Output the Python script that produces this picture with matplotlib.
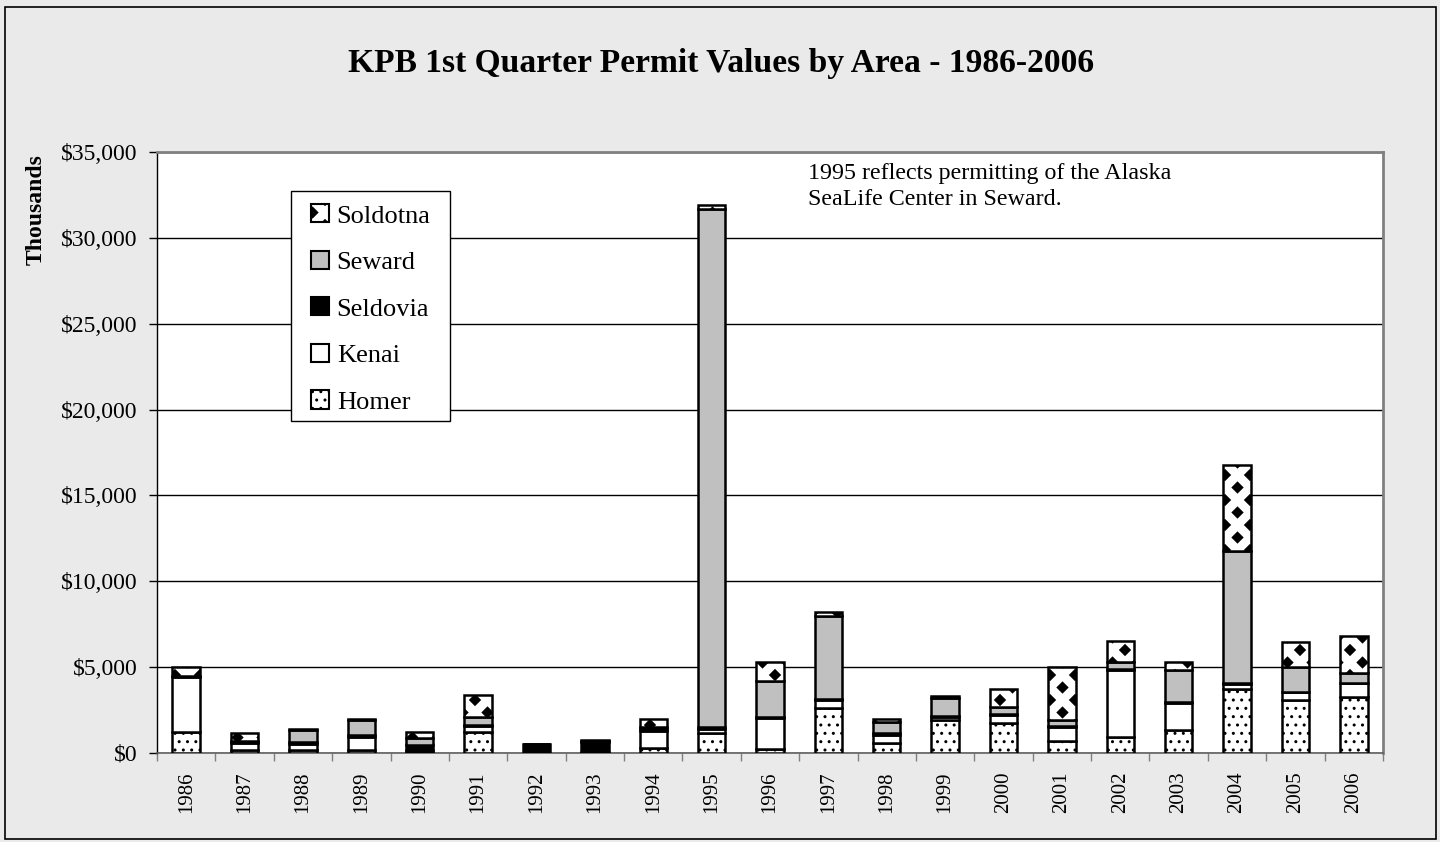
import numpy as np
import matplotlib
matplotlib.use("Agg")
import matplotlib.pyplot as plt
import matplotlib.hatch as mhatch
from matplotlib.path import Path
from matplotlib.patches import Rectangle, Patch

# ---------------- data (values in $ thousands) ----------------
years = [str(y) for y in range(1986, 2007)]
homer = [1240, 150, 150, 150, 50, 1250, 0, 20, 300, 1150, 250, 2600, 600, 1950, 1770, 700, 950, 1350, 3700, 3100, 3250]
kenai = [3200, 450, 350, 800, 100, 300, 0, 50, 1000, 250, 1800, 500, 450, 150, 450, 800, 3900, 1550, 300, 450, 800]
seldovia = [30, 60, 120, 100, 300, 100, 500, 550, 100, 100, 50, 50, 100, 50, 50, 50, 50, 50, 50, 30, 30]
seward = [20, 30, 700, 850, 400, 450, 0, 50, 100, 30200, 2100, 4800, 650, 1050, 400, 400, 400, 1900, 7700, 1450, 600]
soldotna = [490, 460, 80, 100, 350, 1300, 0, 80, 500, 200, 1100, 250, 200, 120, 1050, 3050, 1200, 450, 5050, 1450, 2150]
series_names = ["Homer", "Kenai", "Seldovia", "Seward", "Soldotna"]
yticks = [0, 5000, 10000, 15000, 20000, 25000, 30000, 35000]
ytick_labels = ["$0", "$5,000", "$10,000", "$15,000", "$20,000", "$25,000", "$30,000", "$35,000"]
title = "KPB 1st Quarter Permit Values by Area - 1986-2006"
note = "1995 reflects permitting of the Alaska\nSeaLife Center in Seward."


# ---------------- custom hatch: filled diamonds ('*') ----------------
class FilledDiamonds(mhatch.HatchPatternBase):
    def __init__(self, hatch, density):
        n = hatch.count('*')
        self.ncols = 4 * n
        self.nrows = 8 * n
        self.num_vertices = 0 if n == 0 else len(self._centers()) * 5

    def _centers(self):
        pts = []
        for r in range(self.nrows + 1):
            yy = r / self.nrows
            if r % 2 == 0:
                xs = np.linspace(0, 1, self.ncols + 1)
            else:
                xs = (np.arange(self.ncols) + 0.5) / self.ncols
            pts += [(xx, yy) for xx in xs]
        return pts

    def set_vertices_and_codes(self, vertices, codes):
        a = 0.052
        d = np.array([[0, a], [a, 0], [0, -a], [-a, 0], [0, a]])
        c = np.array([Path.MOVETO, Path.LINETO, Path.LINETO, Path.LINETO, Path.CLOSEPOLY],
                     dtype=Path.code_type)
        parts = [d + np.array(p) for p in self._centers()]
        vertices[:] = np.concatenate(parts)
        codes[:] = np.tile(c, len(parts))


mhatch._hatch_types = [t for t in mhatch._hatch_types if t is not mhatch.Stars] + [FilledDiamonds]
mhatch.SmallFilledCircles.size = 0.1

plt.rcParams['font.family'] = ['Liberation Serif', 'DejaVu Serif']
plt.rcParams['hatch.linewidth'] = 1.0
plt.rcParams['hatch.color'] = 'black'

styles = {
    "Homer": dict(facecolor="white", hatch=".."),
    "Kenai": dict(facecolor="white", hatch=None),
    "Seldovia": dict(facecolor="black", hatch=None),
    "Seward": dict(facecolor="#c0c0c0", hatch=None),
    "Soldotna": dict(facecolor="white", hatch="*"),
}
data = {"Homer": homer, "Kenai": kenai, "Seldovia": seldovia, "Seward": seward, "Soldotna": soldotna}

fig = plt.figure(figsize=(14.4, 8.42), dpi=100, facecolor="#eaeaea")
# outer frame
fig.patches.append(Rectangle((5 / 1440, 3 / 842), 1431 / 1440, 832 / 842, transform=fig.transFigure,
                             fill=False, edgecolor="black", linewidth=1.2))

ax = fig.add_axes([157 / 1440, 1 - 753 / 842, (1383 - 157) / 1440, (753 - 152) / 842])
ax.set_facecolor("white")

x = np.arange(len(years))
bottom = np.zeros(len(years))
for name in series_names:
    vals = np.array(data[name], float)
    st = styles[name]
    ax.bar(x, vals, width=0.47, bottom=bottom, color=st["facecolor"], hatch=st["hatch"],
           edgecolor="black", linewidth=1.8, zorder=3)
    bottom += vals

ax.set_xlim(-0.5, len(years) - 0.5)
ax.set_ylim(0, 35000)
ax.set_yticks(yticks)
ax.set_yticklabels(ytick_labels, fontsize=17)
ax.yaxis.grid(True, color="black", linewidth=1.0, zorder=0)
ax.set_axisbelow(True)
ax.tick_params(axis='y', direction='out', length=6, width=1, pad=8, colors='black')

ax.set_xticks(x)
ax.set_xticklabels(years, rotation=90, fontsize=15)
ax.set_xticks(np.arange(-0.5, len(years), 1.0), minor=True)
ax.tick_params(axis='x', which='major', length=0, pad=13)
ax.tick_params(axis='x', which='minor', direction='out', length=6, width=1, color='#808080')

for s in ['top', 'right']:
    ax.spines[s].set_color('#808080')
    ax.spines[s].set_linewidth(2)
ax.spines['left'].set_color('black')
ax.spines['bottom'].set_color('#606060')
ax.spines['left'].set_linewidth(1)
ax.spines['bottom'].set_linewidth(1.2)

# legend box (drawn separately) and legend content (reverse order)
fig.patches.append(Rectangle((291 / 1440, 1 - 421 / 842), (450 - 291) / 1440, (421 - 191) / 842,
                             transform=fig.transFigure, facecolor='white', edgecolor='black',
                             linewidth=1.0, zorder=4))
handles = [Patch(facecolor=styles[n]["facecolor"], hatch=styles[n]["hatch"], edgecolor="black",
                 linewidth=1.5, label=n) for n in reversed(series_names)]
leg = fig.legend(handles=handles, loc='center', bbox_to_anchor=(371 / 1440, 1 - 309 / 842),
                 fontsize=19, frameon=False,
                 handlelength=0.68, handleheight=0.68, handletextpad=0.28, labelspacing=0.88,
                 borderpad=0.0, borderaxespad=0)
leg.set_zorder(5)

fig.text(721 / 1440, 1 - 72 / 842, title, ha='center', va='baseline', fontsize=24.1, fontweight='bold')
fig.text(36 / 1440, 1 - 210 / 842, "Thousands", rotation=90, ha='center', va='center',
         fontsize=17, fontweight='bold')
fig.text(808 / 1440, 1 - 163 / 842, note, ha='left', va='top', fontsize=17.3, linespacing=1.3)

fig.savefig("out.png", dpi=100, facecolor=fig.get_facecolor())
